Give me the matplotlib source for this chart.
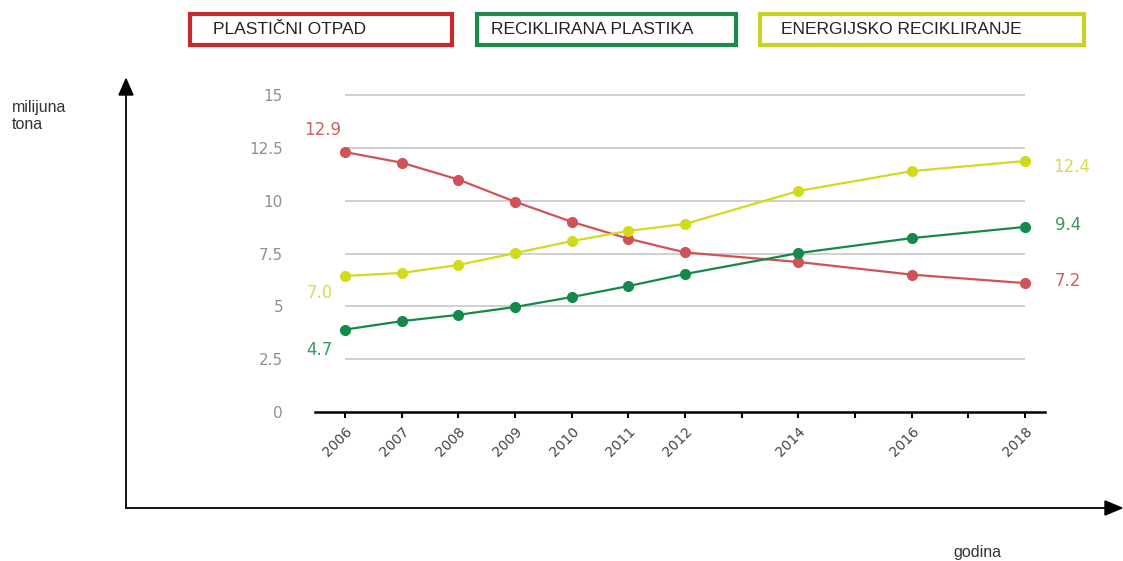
import matplotlib.pyplot as plt
from matplotlib.patches import Rectangle

# Years and series values
years = [2006, 2007, 2008, 2009, 2010, 2011, 2012, 2014, 2016, 2018]
plasticni_otpad = [12.3, 11.8, 11.0, 9.95, 9.0, 8.2, 7.55, 7.1, 6.5, 6.1]
reciklirana_plastika = [3.9, 4.3, 4.6, 4.97, 5.44, 5.96, 6.53, 7.52, 8.23, 8.76]
energijsko_recikliranje = [6.44, 6.58, 6.96, 7.52, 8.09, 8.57, 8.9, 10.46, 11.4, 11.88]

y_ticks = [0, 2.5, 5, 7.5, 10, 12.5, 15]
y_tick_labels = ['0', '2.5', '5', '7.5', '10', '12.5', '15']
x_ticks = list(range(2006, 2019))
x_tick_labels = ['2006', '2007', '2008', '2009', '2010', '2011', '2012', '',
                 '2014', '', '2016', '', '2018']

series_names = ['PLASTIČNI OTPAD', 'RECIKLIRANA PLASTIKA', 'ENERGIJSKO RECIKLIRANJE']
start_labels = ['12.9', '4.7', '7.0']
end_labels = ['7.2', '9.4', '12.4']

red_box, green_box, yellow_box = '#c62a2e', '#1b8a4c', '#c9d324'
red_line, green_line, yellow_line = '#cf5356', '#14894a', '#d2da1e'
red_txt, green_txt, yellow_txt = '#d0605f', '#3a9a60', '#d6de4a'

fig = plt.figure(figsize=(11.23, 5.61), dpi=100)
ax = fig.add_axes([315 / 1123, 149 / 561, 730 / 1123, 323.3 / 561])

ax.set_xlim(2005.47, 2018.35)
ax.set_ylim(0, 15.3)

# gridlines only between first and last year
for y in y_ticks[1:]:
    ax.hlines(y, 2006, 2018, color='#c8c8c8', lw=1.2, zorder=1)

ax.plot(years, plasticni_otpad, color=red_line, lw=1.6, marker='o', ms=7, zorder=3)
ax.plot(years, reciklirana_plastika, color=green_line, lw=1.6, marker='o', ms=7, zorder=3)
ax.plot(years, energijsko_recikliranje, color=yellow_line, lw=1.6, marker='o', ms=7, zorder=3)

# value labels at the ends
lab = dict(fontsize=12, ha='center', va='center', clip_on=False)
ax.text(2005.6, 13.35, start_labels[0], color=red_txt, **lab)
ax.text(2005.55, 2.93, start_labels[1], color=green_txt, **lab)
ax.text(2005.55, 5.63, start_labels[2], color=yellow_txt, **lab)
ax.text(2018.75, 6.2, end_labels[0], color=red_txt, **lab)
ax.text(2018.75, 8.85, end_labels[1], color=green_txt, **lab)
ax.text(2018.82, 11.6, end_labels[2], color=yellow_txt, **lab)

for side in ['left', 'right', 'top']:
    ax.spines[side].set_visible(False)
ax.spines['bottom'].set_linewidth(1.8)

ax.set_yticks(y_ticks)
ax.set_yticklabels(y_tick_labels, color='#909090', fontsize=11)
ax.tick_params(axis='y', length=0, pad=23)
ax.set_xticks(x_ticks)
ax.set_xticklabels(x_tick_labels, rotation=45, color='#444444', fontsize=10,
                   ha='right', va='top', rotation_mode='anchor')
ax.tick_params(axis='x', length=4, width=1.5, direction='out', pad=5)

# big arrow axes around the chart
fig.add_artist(plt.Line2D([126 / 1123, 1105 / 1123], [53 / 561, 53 / 561], color='black', lw=1.3))
fig.add_artist(plt.Line2D([126 / 1123, 126 / 1123], [53 / 561, 468 / 561], color='black', lw=1.3))
fig.add_artist(plt.Polygon([[1105 / 1123, 60 / 561], [1105 / 1123, 46 / 561], [1122 / 1123, 53 / 561]],
                           closed=True, color='black'))
fig.add_artist(plt.Polygon([[119 / 1123, 466 / 561], [133 / 1123, 466 / 561], [126 / 1123, 482 / 561]],
                           closed=True, color='black'))
fig.text(12 / 1123, 1 - 116 / 561, 'milijuna\ntona', fontsize=11.5, family='Liberation Sans',
         ha='left', va='center', ma='left', color='#333333', linespacing=1.2)
fig.text(977 / 1123, 1 - 552 / 561, 'godina', fontsize=11.5, family='Liberation Sans',
         ha='center', va='center', color='#333333')

# legend boxes at the top
boxes = [(190, 452, 213, red_box), (477, 736, 491, green_box), (760, 1084, 781, yellow_box)]
for (x0, x1, tx, col), name in zip(boxes, series_names):
    fig.add_artist(Rectangle((x0 / 1123, 1 - 45 / 561), (x1 - x0) / 1123, 31 / 561,
                             fill=False, edgecolor=col, lw=3))
    fig.text(tx / 1123, 1 - 30 / 561, name, fontsize=12.5, family='Liberation Sans',
             ha='left', va='center', color='#222222')

fig.savefig('out.png', dpi=100)
